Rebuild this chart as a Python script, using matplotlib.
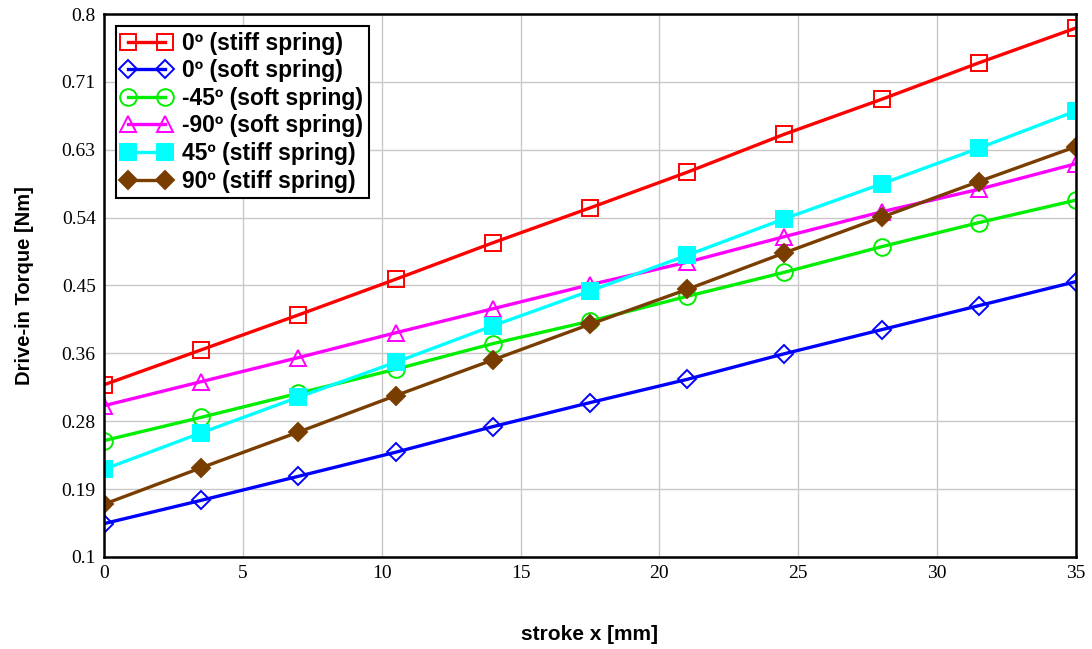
import matplotlib

matplotlib.use("Agg")
import matplotlib.pyplot as plt
import numpy as np

# stroke positions of the markers [mm]
stroke = [0, 3.5, 7, 10.5, 14, 17.5, 21, 24.5, 28, 31.5, 35]

# drive-in torque [Nm]
t_0_stiff = [0.322, 0.367, 0.412, 0.458, 0.505, 0.550, 0.596, 0.645, 0.690, 0.737, 0.782]
t_0_soft = [0.143, 0.173, 0.204, 0.235, 0.268, 0.299, 0.329, 0.362, 0.393, 0.424, 0.455]
t_m45_soft = [0.250, 0.280, 0.311, 0.342, 0.375, 0.404, 0.436, 0.467, 0.500, 0.531, 0.560]
t_m90_soft = [0.295, 0.326, 0.357, 0.389, 0.420, 0.451, 0.480, 0.513, 0.545, 0.574, 0.607]
t_45_stiff = [0.213, 0.260, 0.306, 0.351, 0.398, 0.443, 0.489, 0.536, 0.581, 0.627, 0.675]
t_90_stiff = [0.168, 0.215, 0.261, 0.308, 0.354, 0.400, 0.445, 0.492, 0.538, 0.584, 0.629]

labels = [
    "0º (stiff spring)",
    "0º (soft spring)",
    "-45º (soft spring)",
    "-90º (soft spring)",
    "45º (stiff spring)",
    "90º (stiff spring)",
]

ytick_labels = ["0.1", "0.19", "0.28", "0.36", "0.45", "0.54", "0.63", "0.71", "0.8"]

SERIF = ["Liberation Serif", "DejaVu Serif"]
SANS = ["Liberation Sans", "DejaVu Sans"]

fig = plt.figure(figsize=(10.92, 6.49), dpi=100)
ax = fig.add_axes([0.0952, 0.1418, 0.8901, 0.8366])

styles = [
    (t_0_stiff, "#ff0000", "s", "none", 11),
    (t_0_soft, "#0000ff", "D", "none", 9),
    (t_m45_soft, "#00ee00", "o", "none", 12),
    (t_m90_soft, "#ff00ff", "^", "none", 11),
    (t_45_stiff, "#00ffff", "s", "#00ffff", 11),
    (t_90_stiff, "#7a3d00", "D", "#7a3d00", 9),
]
for (vals, col, mk, fc, ms), lab in zip(styles, labels):
    ax.plot(stroke, vals, color=col, lw=2.4, marker=mk, ms=ms,
            mfc=fc, mec=col, mew=1.4, label=lab)

ax.set_xlim(0, 35)
ax.set_ylim(0.1, 0.8)
ax.set_xticks(np.arange(0, 36, 5))
ax.set_yticks(np.linspace(0.1, 0.8, len(ytick_labels)))
ax.set_yticklabels(ytick_labels)
ax.grid(True, color="#c8c8c8", lw=1.0)
ax.set_axisbelow(True)
ax.tick_params(length=0, pad=6, labelsize=14)
for lab in ax.get_xticklabels() + ax.get_yticklabels():
    lab.set_family(SERIF)
for sp in ax.spines.values():
    sp.set_linewidth(1.8)

ax.set_xlabel("stroke x [mm]", family=SANS, fontsize=15, fontweight="bold", labelpad=31)
ax.set_ylabel("Drive-in Torque [Nm]", family=SANS, fontsize=14.5, fontweight="bold", labelpad=20)

leg = ax.legend(loc="upper left", bbox_to_anchor=(0.012, 0.978), numpoints=2,
                handlelength=2.2, handletextpad=0.45, labelspacing=0.2,
                borderpad=0.25, borderaxespad=0, fancybox=False, framealpha=1,
                prop={"family": SANS, "weight": "bold", "size": 16.5})
leg.get_frame().set_edgecolor("black")
leg.get_frame().set_linewidth(1.5)

fig.savefig("out.png", dpi=100)
